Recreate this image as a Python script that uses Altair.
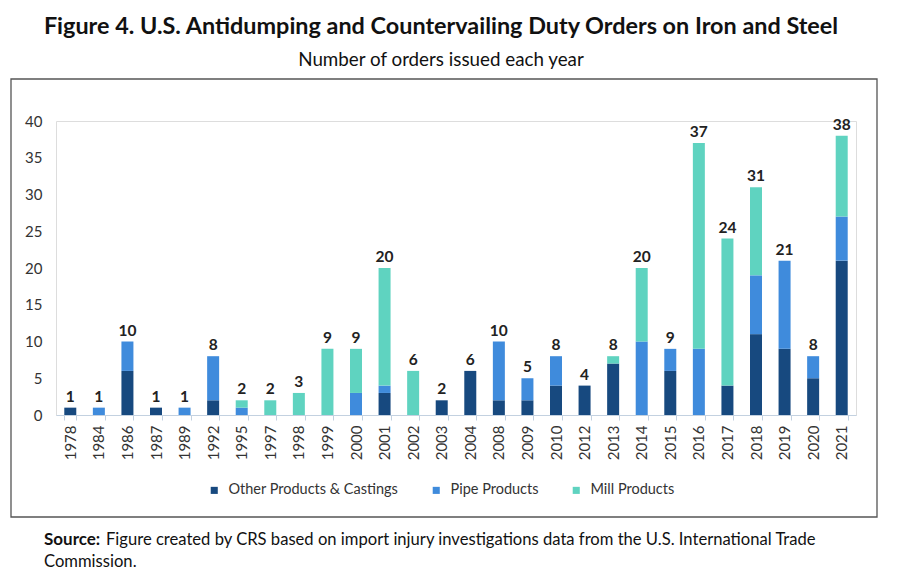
import altair as alt
import pandas as pd

years = ["1978", "1984", "1986", "1987", "1989", "1992", "1995", "1997", "1998", "1999",
         "2000", "2001", "2002", "2003", "2004", "2008", "2009", "2010", "2012", "2013",
         "2014", "2015", "2016", "2017", "2018", "2019", "2020", "2021"]
other = [1, 0, 6, 1, 0, 2, 0, 0, 0, 0, 0, 3, 0, 2, 6, 2, 2, 4, 4, 7, 0, 6, 0, 4, 11, 9, 5, 21]
pipe = [0, 1, 4, 0, 1, 6, 1, 0, 0, 0, 3, 1, 0, 0, 0, 8, 3, 4, 0, 0, 10, 3, 9, 0, 8, 12, 3, 6]
mill = [0, 0, 0, 0, 0, 0, 1, 2, 3, 9, 6, 16, 6, 0, 0, 0, 0, 0, 0, 1, 10, 0, 28, 20, 12, 0, 0, 11]
series = ["Other Products & Castings", "Pipe Products", "Mill Products"]
colors = ["#17497F", "#3F8BDC", "#5FD3C0"]
y_ticks = [0, 5, 10, 15, 20, 25, 30, 35, 40]

rows = []
for i, y in enumerate(years):
    for k, (name, vals) in enumerate(zip(series, [other, pipe, mill])):
        rows.append({"year": y, "series": name, "value": vals[i], "order": k})
df = pd.DataFrame(rows)
totals = pd.DataFrame({"year": years, "total": [a + b + c for a, b, c in zip(other, pipe, mill)]})

FONT = "Lato"

xaxis = alt.Axis(labelAngle=270, labelFontSize=15, labelColor="#333333",
                 labelFont=FONT, domainColor="#C3D1E0", tickColor="#C3D1E0",
                 tickBand="extent", tickSize=5, labelPadding=5, labelAlign="right",
                 labelBaseline="middle")
yaxis = alt.Axis(values=y_ticks, grid=False, domain=False, labelOverlap=False,
                 ticks=False, labelFontSize=15, labelColor="#333333",
                 labelFont=FONT, labelPadding=14)
xscale = alt.Scale(paddingInner=0.58, paddingOuter=0.29)
yscale = alt.Scale(domain=[0, 40], nice=False)

bars = alt.Chart(df).mark_bar().encode(
    x=alt.X("year:N", sort=years, title=None, scale=xscale, axis=xaxis),
    y=alt.Y("value:Q", stack="zero", title=None, scale=yscale, axis=yaxis),
    color=alt.Color("series:N", sort=series,
                    scale=alt.Scale(domain=series, range=colors),
                    legend=alt.Legend(title=None, orient="none", direction="horizontal",
                                      legendX=151, legendY=362, symbolType="square",
                                      symbolSize=50, labelFontSize=14.5, labelFont=FONT,
                                      labelColor="#333333", columnPadding=30, labelLimit=0,
                                      labelOffset=7, symbolStrokeWidth=0)),
    order=alt.Order("order:Q"),
)

labels = alt.Chart(totals).mark_text(fontWeight="bold", fontSize=15.5, font=FONT,
                                     baseline="bottom", dy=-3, color="#222222").encode(
    x=alt.X("year:N", sort=years, title=None, scale=xscale, axis=xaxis),
    y=alt.Y("total:Q", title=None, scale=yscale, axis=yaxis),
    text="total:Q",
)

one = pd.DataFrame({"a": [0]})
frame = alt.Chart(one).mark_rect(fill=None, stroke="#555555", strokeWidth=1.3).encode(
    x=alt.value(-45), x2=alt.value(821), y=alt.value(-42), y2=alt.value(396))

src_bold = alt.Chart(one).mark_text(text="Source:", fontWeight="bold", fontSize=17, font=FONT,
                                    align="left", baseline="alphabetic", color="#111111").encode(
    x=alt.value(-12), y=alt.value(424))
src_rest = alt.Chart(one).mark_text(
    text="Figure created by CRS based on import injury investigations data from the U.S. International Trade",
    fontSize=16.6, font=FONT, align="left", baseline="alphabetic", color="#111111").encode(
    x=alt.value(50), y=alt.value(424))
src_line2 = alt.Chart(one).mark_text(text="Commission.", fontSize=16.6, font=FONT, align="left",
                                     baseline="alphabetic", color="#111111").encode(
    x=alt.value(-12), y=alt.value(446))

chart = alt.layer(bars, labels, frame, src_bold, src_rest, src_line2).properties(
    width=800, height=294,
    autosize=alt.AutoSizeParams(type="none"),
    padding={"left": 56, "top": 121, "right": 47, "bottom": 164},
    title=alt.TitleParams(
        text="Figure 4. U.S. Antidumping and Countervailing Duty Orders on Iron and Steel",
        subtitle="Number of orders issued each year",
        font=FONT, fontSize=23.4, fontWeight="bold", color="#111111",
        subtitleFont=FONT, subtitleFontSize=18.8, subtitleColor="#111111",
        anchor="middle", frame="bounds", offset=8, subtitlePadding=11, dx=-3),
).configure_view(stroke=None).configure(background="white")

chart.save("out.html", embed_options={"renderer": "svg", "actions": False})
